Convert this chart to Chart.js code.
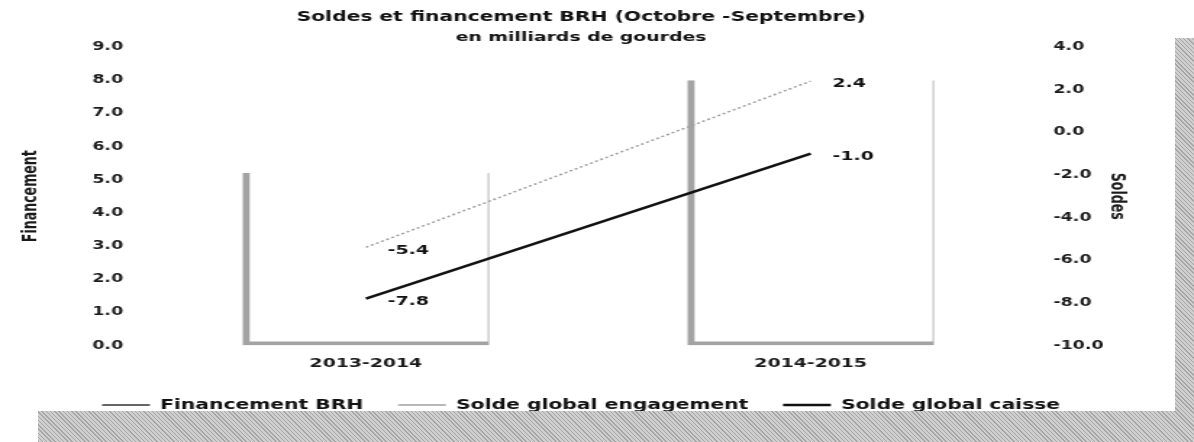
<!DOCTYPE html>
<html lang="fr">
<head>
<meta charset="utf-8">
<title>Soldes et financement BRH</title>
<script src="https://cdn.jsdelivr.net/npm/chart.js@4.4.1/dist/chart.umd.min.js"></script>
<style>
  html, body { margin: 0; padding: 0; background: #fff; }
  #cadre { position: relative; width: 1194px; height: 442px; overflow: hidden; background: #fff; }
  /* le scan est étiré horizontalement, on étire le canvas de la même façon */
  #etire { width: 824px; height: 442px; transform: scaleX(1.449); transform-origin: 0 0; }
  .bande { position: absolute; background: repeating-linear-gradient(45deg, #a6a6a6 0 1px, #cfcfcf 1px 3px); }
  #bande-droite { left: 1175px; top: 38px; width: 19px; height: 404px; }
  #bande-bas { left: 38px; top: 411px; width: 1156px; height: 31px; }
</style>
</head>
<body>
<div id="cadre">
  <div id="etire"><canvas id="graphique" width="824" height="442"></canvas></div>
  <div class="bande" id="bande-droite"></div>
  <div class="bande" id="bande-bas"></div>
</div>
<script>
const categories = ["2013-2014", "2014-2015"];
const financementBRH = [5.2, 8.0];
const soldeEngagement = [-5.4, 2.4];
const soldeCaisse = [-7.8, -1.0];

const axeFinancement = { min: 0, max: 9, pas: 1 };
const axeSoldes = { min: -10, max: 4, pas: 2 };

Chart.defaults.font.family = "'DejaVu Sans', Verdana, sans-serif";
Chart.defaults.font.weight = "bold";
Chart.defaults.color = "#1a1a1a";

const policeTitreAxe = {
  family: "'Liberation Sans Narrow', 'DejaVu Sans Condensed', sans-serif",
  size: 14,
  weight: "bold",
};

// etiquettes des soldes a droite de chaque point
const etiquettesSoldes = {
  id: "etiquettesSoldes",
  afterDatasetsDraw(chart) {
    const ctx = chart.ctx;
    ctx.save();
    ctx.font = "bold 13px 'DejaVu Sans', Verdana, sans-serif";
    ctx.fillStyle = "#111";
    ctx.textAlign = "left";
    ctx.textBaseline = "middle";
    [1, 2].forEach((i) => {
      const meta = chart.getDatasetMeta(i);
      const valeurs = chart.data.datasets[i].data;
      meta.data.forEach((pt, j) => {
        ctx.fillText(valeurs[j].toFixed(1), pt.x + 15, pt.y + 3);
      });
    });
    ctx.restore();
  },
};

const ctx = document.getElementById("graphique").getContext("2d");

new Chart(ctx, {
  type: "bar",
  data: {
    labels: categories,
    datasets: [
      {
        label: "Financement BRH",
        data: financementBRH,
        yAxisID: "yFin",
        order: 2,
        backgroundColor: "rgba(0,0,0,0)",
        borderColor: "#a3a3a3",
        borderWidth: { top: 0, left: 5, right: 1, bottom: 4 },
        borderSkipped: false,
        barPercentage: 0.555,
        categoryPercentage: 1.0,
      },
      {
        type: "line",
        label: "Solde global engagement",
        data: soldeEngagement,
        yAxisID: "ySoldes",
        order: 1,
        borderColor: "#a0a0a0",
        borderWidth: 1.5,
        borderDash: [2, 2],
        pointRadius: 0,
        fill: false,
      },
      {
        type: "line",
        label: "Solde global caisse",
        data: soldeCaisse,
        yAxisID: "ySoldes",
        order: 1,
        borderColor: "#111",
        borderWidth: 2.5,
        pointRadius: 0,
        fill: false,
      },
    ],
  },
  options: {
    responsive: false,
    animation: false,
    devicePixelRatio: 1,
    layout: { padding: { left: 0, right: 22, top: 0, bottom: 20 } },
    scales: {
      x: {
        offset: true,
        grid: { display: false, drawTicks: false },
        border: { display: false },
        ticks: { padding: 10, font: { size: 13 } },
        afterFit: (scale) => {
          scale.height = 28.6;
        },
      },
      yFin: {
        position: "left",
        min: axeFinancement.min,
        max: axeFinancement.max,
        grid: { display: false, drawTicks: false },
        border: { display: false },
        ticks: {
          stepSize: axeFinancement.pas,
          padding: 14,
          font: { size: 12 },
          callback: (v) => v.toFixed(1),
        },
        title: {
          display: true,
          text: "Financement",
          font: policeTitreAxe,
          padding: { top: 12.6, bottom: 0 },
        },
        afterFit: (scale) => {
          scale.width = 99;
        },
      },
      ySoldes: {
        position: "right",
        min: axeSoldes.min,
        max: axeSoldes.max,
        grid: { display: false, drawTicks: false },
        border: { display: false },
        ticks: {
          stepSize: axeSoldes.pas,
          padding: 14,
          font: { size: 12 },
          callback: (v) => v.toFixed(1),
        },
        title: {
          display: true,
          text: "Soldes",
          font: policeTitreAxe,
          padding: { top: 22.6, bottom: 0 },
        },
        afterFit: (scale) => {
          scale.width = 89;
        },
      },
    },
    plugins: {
      title: {
        display: true,
        text: "Soldes et financement BRH (Octobre -Septembre)",
        font: { size: 14, weight: "bold" },
        color: "#111",
        padding: { top: 8.6, bottom: 2 },
      },
      subtitle: {
        display: true,
        text: "en milliards de gourdes",
        font: { size: 13, weight: "bold" },
        color: "#111",
        padding: { top: 2, bottom: 2 },
      },
      legend: {
        position: "bottom",
        labels: {
          usePointStyle: true,
          pointStyle: "line",
          pointStyleWidth: 33,
          padding: 24,
          font: { size: 14, weight: "bold" },
          color: "#111",
          sort: (a, b) => a.datasetIndex - b.datasetIndex,
          generateLabels: (chart) => {
            const items = Chart.defaults.plugins.legend.labels.generateLabels(chart);
            items.forEach((it) => {
              it.pointStyle = "line";
              if (it.datasetIndex === 0) {
                it.strokeStyle = "#666";
                it.lineWidth = 2;
              }
            });
            return items;
          },
        },
      },
      tooltip: { enabled: false },
    },
  },
  plugins: [etiquettesSoldes],
});
</script>
</body>
</html>
